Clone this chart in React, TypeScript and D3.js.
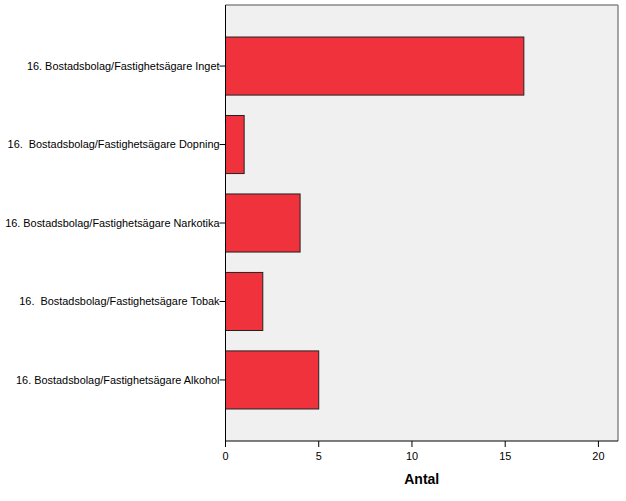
import React from "react";
import * as d3 from "d3";

const categories = [
  "16. Bostadsbolag/Fastighetsägare Inget",
  "16.  Bostadsbolag/Fastighetsägare Dopning",
  "16. Bostadsbolag/Fastighetsägare Narkotika",
  "16.  Bostadsbolag/Fastighetsägare Tobak",
  "16. Bostadsbolag/Fastighetsägare Alkohol",
];
const values = [16, 1, 4, 2, 5];
const xTicks = [0, 5, 10, 15, 20];
const xLabel = "Antal";

const W = 626, H = 501;
const left = 225.5, right = 618, top = 5, bottom = 441;

export default function App() {
  const x = d3.scaleLinear().domain([0, 21.05]).range([left, right]);
  const y = d3.scaleBand<string>().domain(categories).range([top, bottom]).paddingInner(0.26).paddingOuter(0.408);
  const font = "'Liberation Sans', Arial, sans-serif";
  return (
    <svg width={W} height={H} style={{ position: "absolute", left: 0, top: 0 }} fontFamily={font}>
      <rect x={left} y={top} width={right - left} height={bottom - top} fill="#F0F0F0" />
      <line x1={left} x2={right} y1={top} y2={top} stroke="#888" strokeWidth={1.5} />
      <line x1={right} x2={right} y1={top} y2={bottom} stroke="#888" strokeWidth={1.5} />
      {categories.map((c, i) => (
        <rect key={c} x={x(0)} y={y(c)!} width={x(values[i]) - x(0)} height={y.bandwidth()}
          fill="#F0323C" stroke="#222" strokeWidth={1} />
      ))}
      <line x1={left} x2={left} y1={top} y2={bottom} stroke="#000" strokeWidth={1} />
      <line x1={left} x2={right} y1={bottom} y2={bottom} stroke="#000" strokeWidth={1} />
      {categories.map((c) => {
        const cy = y(c)! + y.bandwidth() / 2;
        return (
          <g key={c}>
            <line x1={left - 6} x2={left} y1={cy} y2={cy} stroke="#000" />
            <text x={left - 6} y={cy} dy="0.35em" textAnchor="end" fontSize={10.9} fill="#000" style={{ whiteSpace: "pre" }}>{c}</text>
          </g>
        );
      })}
      {xTicks.map((t) => (
        <g key={t}>
          <line x1={x(t)} x2={x(t)} y1={bottom} y2={bottom + 6} stroke="#000" />
          <text x={x(t)} y={bottom + 19} textAnchor="middle" fontSize={10.9} fill="#000">{t}</text>
        </g>
      ))}
      <text x={(left + right) / 2} y={484} textAnchor="middle" fontSize={14} fontWeight="bold" fill="#000">{xLabel}</text>
    </svg>
  );
}
